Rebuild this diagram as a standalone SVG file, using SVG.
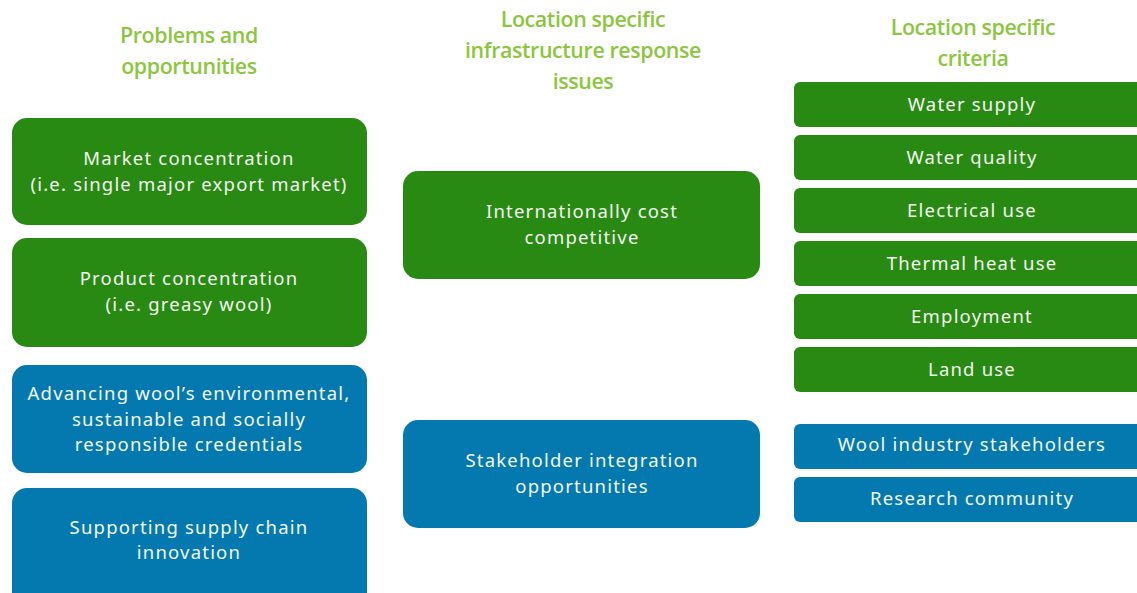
<svg xmlns="http://www.w3.org/2000/svg" width="1137" height="593" viewBox="0 0 1137 593">
  <style>
    .head { font-family: "Open Sans", "Liberation Sans", sans-serif; font-weight: 600; font-size: 21.4px; fill: #8cc63f; text-anchor: middle; letter-spacing: -0.4px; }
    .lbl { font-family: "Noto Sans", "Open Sans", sans-serif; font-size: 18.5px; letter-spacing: 1.2px; fill: #f2f6ee; text-anchor: middle; }
    .green { fill: #288a12; }
    .blue { fill: #0379b0; }
  </style>
  <rect width="1137" height="593" fill="#ffffff"/>

  <!-- column headings -->
  <g id="headings">
    <text class="head" x="189" y="43">Problems and</text>
    <text class="head" x="189" y="74">opportunities</text>
    <text class="head" x="583" y="27">Location specific</text>
    <text class="head" x="583" y="58">infrastructure response</text>
    <text class="head" x="583" y="89">issues</text>
    <text class="head" x="973" y="35">Location specific</text>
    <text class="head" x="973" y="66">criteria</text>
  </g>

  <!-- left column: problems and opportunities -->
  <g id="market-concentration">
    <rect class="green" x="12" y="118" width="355" height="107" rx="15"/>
    <text class="lbl" x="189" y="165">Market concentration</text>
    <text class="lbl" x="189" y="191">(i.e. single major export market)</text>
  </g>
  <g id="product-concentration">
    <rect class="green" x="12" y="238" width="355" height="109" rx="15"/>
    <text class="lbl" x="189" y="285">Product concentration</text>
    <text class="lbl" x="189" y="311">(i.e. greasy wool)</text>
  </g>
  <g id="credentials">
    <rect class="blue" x="12" y="365" width="355" height="108" rx="15"/>
    <text class="lbl" x="189" y="400">Advancing wool’s environmental,</text>
    <text class="lbl" x="189" y="426">sustainable and socially</text>
    <text class="lbl" x="189" y="451">responsible credentials</text>
  </g>
  <g id="supply-chain">
    <rect class="blue" x="12" y="488" width="355" height="120" rx="15"/>
    <text class="lbl" x="189" y="534">Supporting supply chain</text>
    <text class="lbl" x="189" y="559">innovation</text>
  </g>

  <!-- middle column: response issues -->
  <g id="cost-competitive">
    <rect class="green" x="403" y="171" width="357" height="108" rx="15"/>
    <text class="lbl" x="582" y="218">Internationally cost</text>
    <text class="lbl" x="582" y="244">competitive</text>
  </g>
  <g id="stakeholder-integration">
    <rect class="blue" x="403" y="420" width="357" height="108" rx="15"/>
    <text class="lbl" x="582" y="467">Stakeholder integration</text>
    <text class="lbl" x="582" y="493">opportunities</text>
  </g>

  <!-- right column: criteria -->
  <g id="water-supply">
    <rect class="green" x="794" y="82" width="360" height="45" rx="6"/>
    <text class="lbl" x="972" y="111">Water supply</text>
  </g>
  <g id="water-quality">
    <rect class="green" x="794" y="135" width="360" height="45" rx="6"/>
    <text class="lbl" x="972" y="164">Water quality</text>
  </g>
  <g id="electrical-use">
    <rect class="green" x="794" y="188" width="360" height="45" rx="6"/>
    <text class="lbl" x="972" y="217">Electrical use</text>
  </g>
  <g id="thermal-heat-use">
    <rect class="green" x="794" y="241" width="360" height="45" rx="6"/>
    <text class="lbl" x="972" y="270">Thermal heat use</text>
  </g>
  <g id="employment">
    <rect class="green" x="794" y="294" width="360" height="45" rx="6"/>
    <text class="lbl" x="972" y="323">Employment</text>
  </g>
  <g id="land-use">
    <rect class="green" x="794" y="347" width="360" height="45" rx="6"/>
    <text class="lbl" x="972" y="376">Land use</text>
  </g>
  <g id="wool-industry-stakeholders">
    <rect class="blue" x="794" y="424" width="360" height="45" rx="6"/>
    <text class="lbl" x="972" y="451">Wool industry stakeholders</text>
  </g>
  <g id="research-community">
    <rect class="blue" x="794" y="477" width="360" height="45" rx="6"/>
    <text class="lbl" x="972" y="505">Research community</text>
  </g>

  <g id="connectors"/>
</svg>
